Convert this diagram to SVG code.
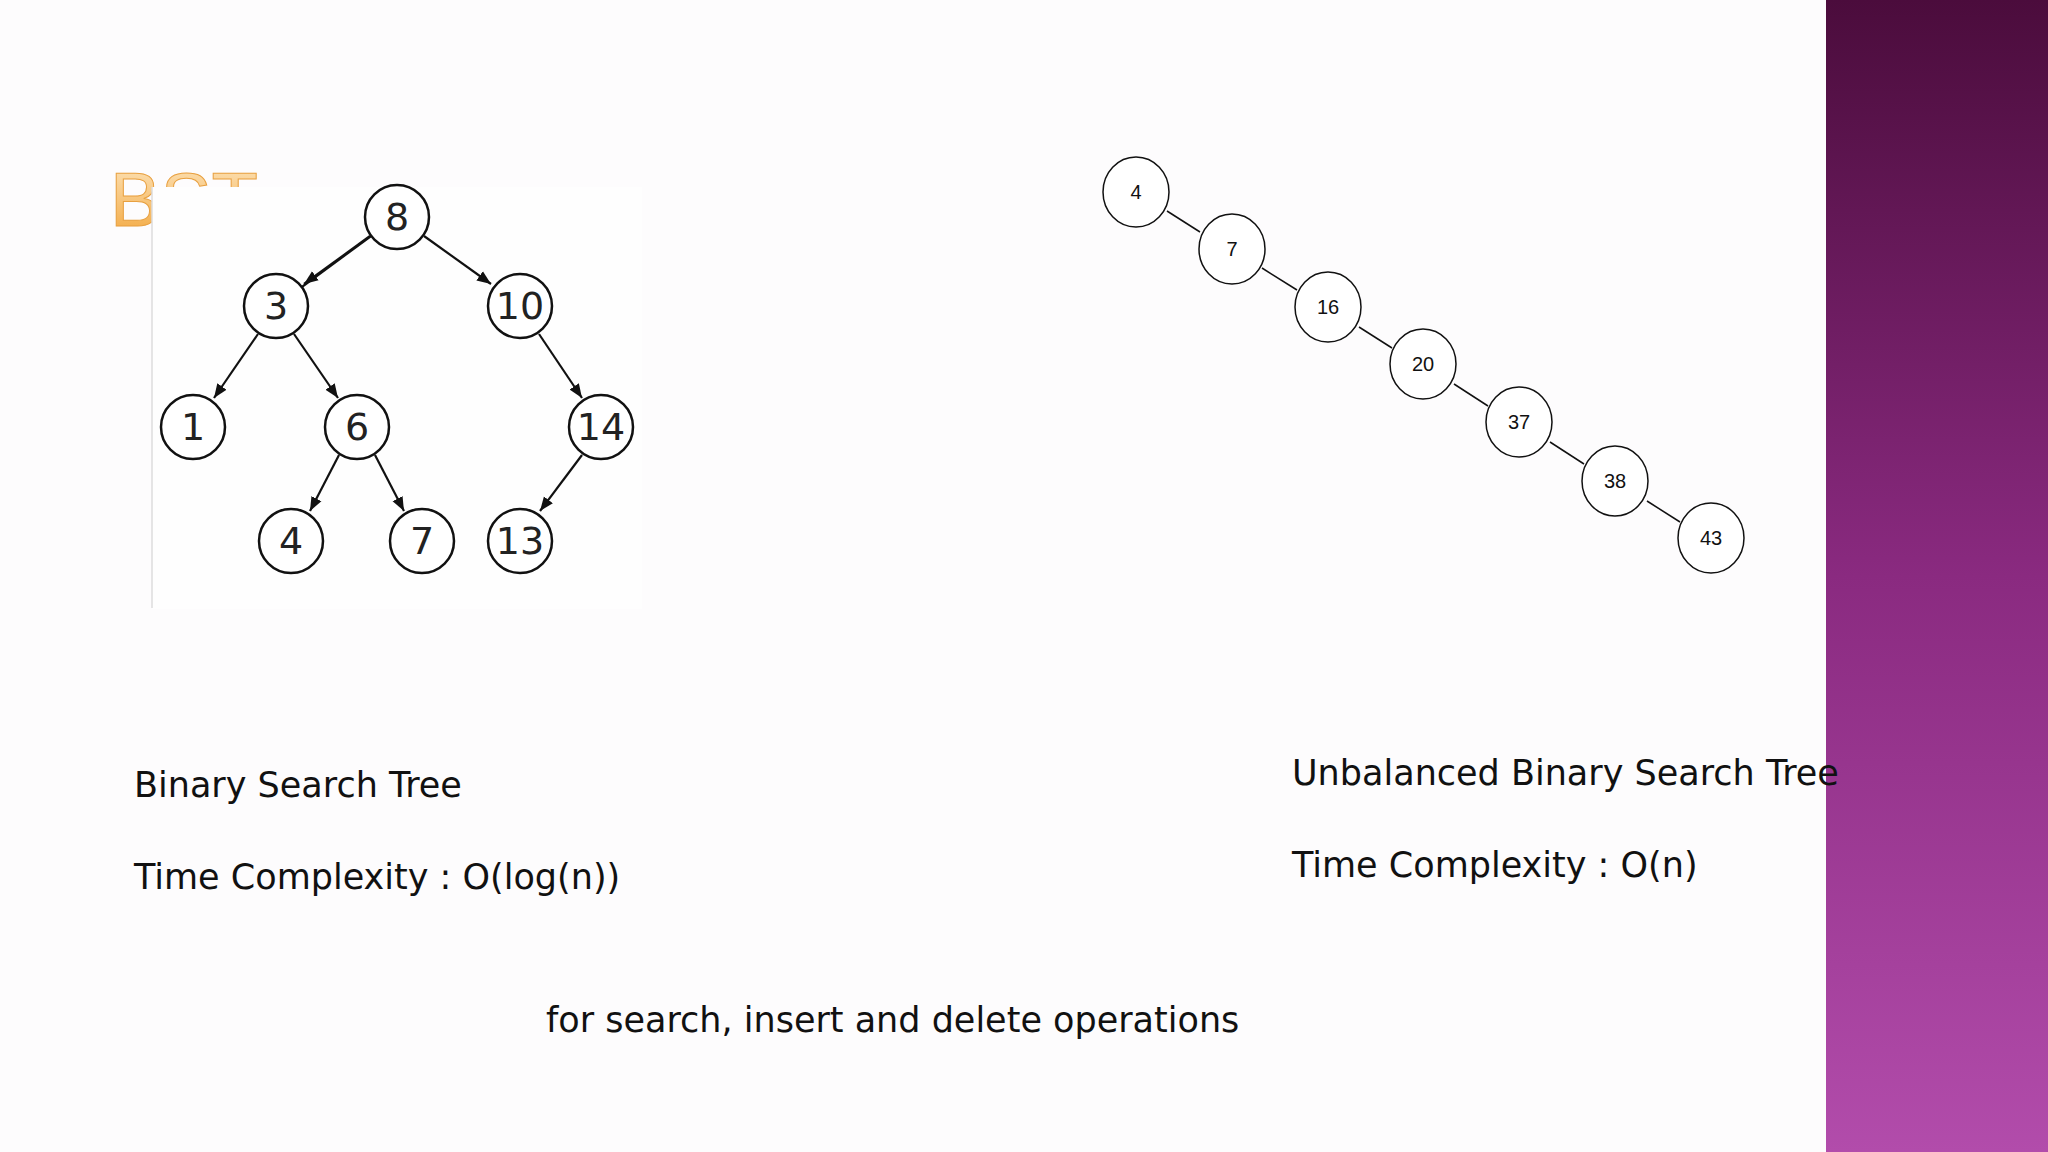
<svg xmlns="http://www.w3.org/2000/svg" width="2048" height="1152" viewBox="0 0 2048 1152">
<defs>
<linearGradient id="purple" x1="0" y1="0" x2="0" y2="1">
<stop offset="0" stop-color="#4b0c3c"/><stop offset="0.5" stop-color="#8a2a80"/><stop offset="1" stop-color="#b24cab"/>
</linearGradient>
<linearGradient id="orange" x1="0" y1="0" x2="0" y2="1">
<stop offset="0" stop-color="#fde6bf"/><stop offset="1" stop-color="#f2a53a"/>
</linearGradient>
<marker id="ah" viewBox="0 0 10 10" refX="10" refY="5" markerWidth="8" markerHeight="8" markerUnits="userSpaceOnUse" orient="auto">
<path d="M0,0 L10,5 L0,10 z" fill="#111"/>
</marker>
<marker id="ah2" viewBox="0 0 10 10" refX="10" refY="5" markerWidth="14" markerHeight="14" orient="auto" markerUnits="userSpaceOnUse">
<path d="M0,1 L10,5 L0,9 z" fill="#111"/>
</marker>
</defs>
<style>
.n circle{fill:#fff;stroke:#111;stroke-width:2.5}
.n text{font-family:"DejaVu Sans",sans-serif;font-size:38px;fill:#222;text-anchor:middle;dominant-baseline:central}
.u ellipse{fill:#fff;stroke:#111;stroke-width:1.5}
.u text{font-family:"Liberation Sans",sans-serif;font-size:20px;fill:#111;text-anchor:middle;dominant-baseline:central}
.e{stroke:#111;stroke-width:2.2;fill:none}
.e2{stroke:#111;stroke-width:1.5;fill:none}
.t{font-family:"DejaVu Sans",sans-serif;font-size:35px;fill:#111}
</style>
<rect width="2048" height="1152" fill="#fdfcfd"/>
<rect x="1826" y="0" width="222" height="1152" fill="url(#purple)"/>
<text x="110" y="226" font-family="Liberation Sans,sans-serif" font-size="76" fill="url(#orange)" stroke="#e8a040" stroke-width="1">BST</text>
<rect x="152" y="187" width="490" height="422" fill="#fefefe"/>
<line x1="152" y1="187" x2="152" y2="608" stroke="#ddd" stroke-width="1.5"/>
<g id="connectors">
<line class="e2" x1="397" y1="217" x2="276" y2="306" marker-end="url(#ah2)" style="stroke-width:2.2" transform="translate(0,0)"/>
</g>
<g id="connectors-left">
<path class="e" d="M370,236 L304,284" marker-end="url(#ah2)"/>
<path class="e" d="M424,236 L491,284" marker-end="url(#ah2)"/>
<path class="e" d="M258,334 L214,398" marker-end="url(#ah2)"/>
<path class="e" d="M294,334 L338,398" marker-end="url(#ah2)"/>
<path class="e" d="M539,334 L582,398" marker-end="url(#ah2)"/>
<path class="e" d="M339,455 L310,511" marker-end="url(#ah2)"/>
<path class="e" d="M375,455 L404,511" marker-end="url(#ah2)"/>
<path class="e" d="M582,455 L540,511" marker-end="url(#ah2)"/>
</g>
<g id="connectors-right">
<line class="e2" x1="1167" y1="211" x2="1200" y2="232"/>
<line class="e2" x1="1262" y1="268" x2="1297" y2="290"/>
<line class="e2" x1="1359" y1="327" x2="1392" y2="348"/>
<line class="e2" x1="1454" y1="384" x2="1488" y2="406"/>
<line class="e2" x1="1550" y1="442" x2="1584" y2="464"/>
<line class="e2" x1="1647" y1="501" x2="1680" y2="522"/>
</g>
<g id="n8" class="n"><circle cx="397" cy="217" r="32"/><text x="397" y="217">8</text></g>
<g id="n3" class="n"><circle cx="276" cy="306" r="32"/><text x="276" y="306">3</text></g>
<g id="n10" class="n"><circle cx="520" cy="306" r="32"/><text x="520" y="306">10</text></g>
<g id="n1" class="n"><circle cx="193" cy="427" r="32"/><text x="193" y="427">1</text></g>
<g id="n6" class="n"><circle cx="357" cy="427" r="32"/><text x="357" y="427">6</text></g>
<g id="n14" class="n"><circle cx="601" cy="427" r="32"/><text x="601" y="427">14</text></g>
<g id="n4" class="n"><circle cx="291" cy="541" r="32"/><text x="291" y="541">4</text></g>
<g id="n7" class="n"><circle cx="422" cy="541" r="32"/><text x="422" y="541">7</text></g>
<g id="n13" class="n"><circle cx="520" cy="541" r="32"/><text x="520" y="541">13</text></g>
<g id="u4" class="u"><ellipse cx="1136" cy="192" rx="33" ry="35"/><text x="1136" y="192">4</text></g>
<g id="u7" class="u"><ellipse cx="1232" cy="249" rx="33" ry="35"/><text x="1232" y="249">7</text></g>
<g id="u16" class="u"><ellipse cx="1328" cy="307" rx="33" ry="35"/><text x="1328" y="307">16</text></g>
<g id="u20" class="u"><ellipse cx="1423" cy="364" rx="33" ry="35"/><text x="1423" y="364">20</text></g>
<g id="u37" class="u"><ellipse cx="1519" cy="422" rx="33" ry="35"/><text x="1519" y="422">37</text></g>
<g id="u38" class="u"><ellipse cx="1615" cy="481" rx="33" ry="35"/><text x="1615" y="481">38</text></g>
<g id="u43" class="u"><ellipse cx="1711" cy="538" rx="33" ry="35"/><text x="1711" y="538">43</text></g>
<text class="t" x="134" y="797">Binary Search Tree</text>
<text class="t" x="134" y="889">Time Complexity : O(log(n))</text>
<text class="t" x="1292" y="785">Unbalanced Binary Search Tree</text>
<text class="t" x="1292" y="877">Time Complexity : O(n)</text>
<text class="t" x="546" y="1032">for search, insert and delete operations</text>
</svg>
